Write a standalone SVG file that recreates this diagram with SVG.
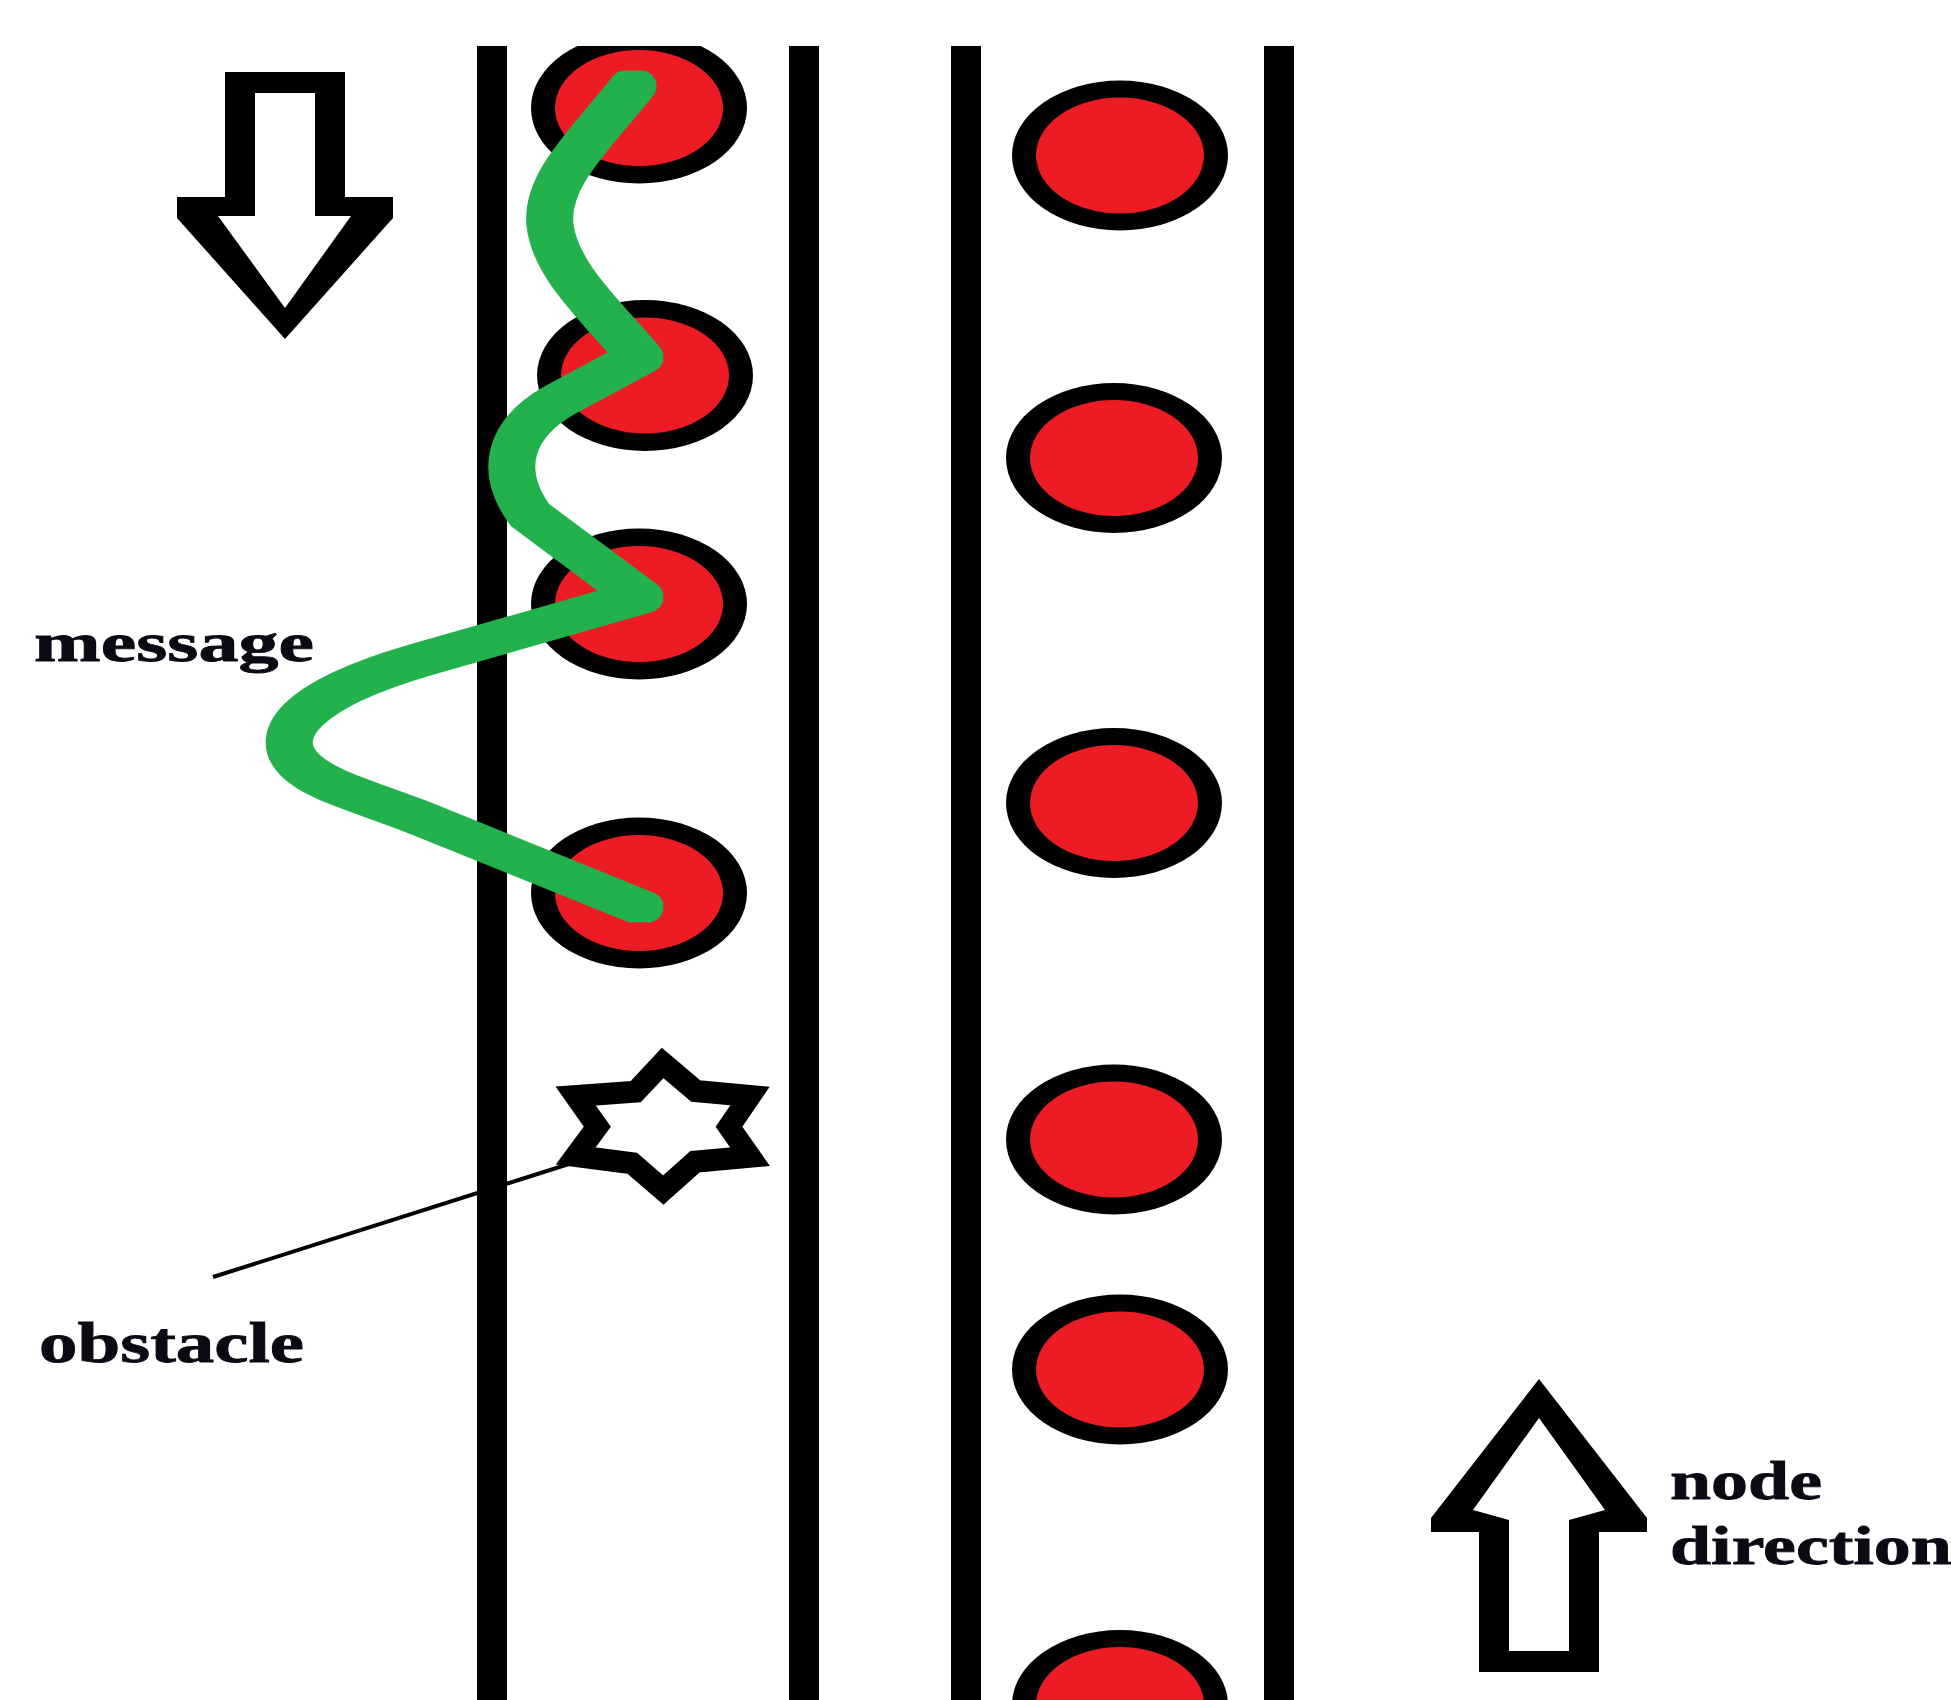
<svg xmlns="http://www.w3.org/2000/svg" xmlns:xlink="http://www.w3.org/1999/xlink" width="1951" height="1700" viewBox="0 0 1951 1700">
  <style>
    .lane { fill: #000000; }
    .outer { fill: #000000; }
    .inner { fill: #ED1C24; }
    .lbl { font-family: "Liberation Serif", "Times New Roman", serif; font-weight: bold; fill: #0a0a14; stroke: #0a0a14; stroke-width: 0.8; }
    .msg { fill: none; stroke: #22B14C; stroke-width: 31; stroke-linecap: round; stroke-linejoin: round; }
  </style>
  <defs>
    <clipPath id="topclip"><rect x="0" y="46" width="1951" height="1654"/></clipPath>
    <path id="msgline" d="M633,86 C590,140 545,180 550,225 C555,270 600,310 640,357 L560,400 C510,428 497,470 530,515 L640,597 L420,660 C300,695 270,735 300,765 C320,785 360,795 420,818 L640,907"/>
  </defs>
  <rect x="0" y="0" width="1951" height="1700" fill="#ffffff"/>

  <g id="lanes">
    <rect class="lane" x="477" y="46" width="30" height="1654"/>
    <rect class="lane" x="789" y="46" width="30" height="1654"/>
    <rect class="lane" x="951" y="46" width="30" height="1654"/>
    <rect class="lane" x="1264" y="46" width="30" height="1654"/>
  </g>

  <g id="nodes-left" clip-path="url(#topclip)">
    <g id="node-l1"><ellipse class="outer" cx="639" cy="108" rx="108" ry="75.5"/><ellipse class="inner" cx="639" cy="108" rx="84" ry="58"/></g>
    <g id="node-l2"><ellipse class="outer" cx="645" cy="375.5" rx="108" ry="75.5"/><ellipse class="inner" cx="645" cy="375.5" rx="84" ry="58"/></g>
    <g id="node-l3"><ellipse class="outer" cx="639" cy="604" rx="108" ry="75.5"/><ellipse class="inner" cx="639" cy="604" rx="84" ry="58"/></g>
    <g id="node-l4"><ellipse class="outer" cx="639" cy="893" rx="108" ry="75.5"/><ellipse class="inner" cx="639" cy="893" rx="84" ry="58"/></g>
  </g>

  <g id="nodes-right">
    <g id="node-r1"><ellipse class="outer" cx="1120" cy="155.5" rx="108" ry="75"/><ellipse class="inner" cx="1120" cy="155.5" rx="84" ry="58"/></g>
    <g id="node-r2"><ellipse class="outer" cx="1114" cy="458" rx="108" ry="75"/><ellipse class="inner" cx="1114" cy="458" rx="84" ry="58"/></g>
    <g id="node-r3"><ellipse class="outer" cx="1114" cy="803" rx="108" ry="75"/><ellipse class="inner" cx="1114" cy="803" rx="84" ry="58"/></g>
    <g id="node-r4"><ellipse class="outer" cx="1114" cy="1139.5" rx="108" ry="75"/><ellipse class="inner" cx="1114" cy="1139.5" rx="84" ry="58"/></g>
    <g id="node-r5"><ellipse class="outer" cx="1120" cy="1369.5" rx="108" ry="75"/><ellipse class="inner" cx="1120" cy="1369.5" rx="84" ry="58"/></g>
    <g id="node-r6"><ellipse class="outer" cx="1120" cy="1705" rx="108" ry="75"/><ellipse class="inner" cx="1120" cy="1705" rx="84" ry="58"/></g>
  </g>

  <g id="connectors">
    <line id="obstacle-pointer" x1="213" y1="1277" x2="638" y2="1142" stroke="#000000" stroke-width="4"/>
    <g id="message-path">
      <use xlink:href="#msgline" href="#msgline" class="msg" x="-8"/>
      <use xlink:href="#msgline" href="#msgline" class="msg" x="0"/>
      <use xlink:href="#msgline" href="#msgline" class="msg" x="8"/>
    </g>
  </g>

  <g id="obstacle">
    <polygon points="662.7,1063 695.7,1091 750,1096 729,1126.7 750,1156.7 695,1161.7 663.3,1190 632.3,1163.3 575.7,1156 597.3,1126.7 575.7,1096 635.7,1091.7" fill="#ffffff" stroke="#000000" stroke-width="22" stroke-linejoin="miter" stroke-miterlimit="4"/>
  </g>

  <g id="arrow-down">
    <path fill="#000000" fill-rule="evenodd" d="M225,72 H345 V197 H393 V218 L285,339 L177,218 V197 H225 Z M255,93 V216 H218 L285,308 L351,216 H315 V93 Z"/>
  </g>

  <g id="arrow-up">
    <path fill="#000000" fill-rule="evenodd" d="M1539,1379 L1647,1518 V1532 H1599 V1672 H1479 V1532 H1431 V1518 Z M1539,1418 L1473,1510 L1509,1520 V1651 H1569 V1520 L1605,1510 Z"/>
  </g>

  <g id="labels">
    <text class="lbl" font-size="55" transform="translate(34,661) scale(1.455,1)">message</text>
    <text class="lbl" font-size="56" transform="translate(39,1362) scale(1.374,1)">obstacle</text>
    <text class="lbl" font-size="55" transform="translate(1670,1499) scale(1.344,1)">node</text>
    <text class="lbl" font-size="55" transform="translate(1670,1564) scale(1.344,1)">direction</text>
  </g>
</svg>
